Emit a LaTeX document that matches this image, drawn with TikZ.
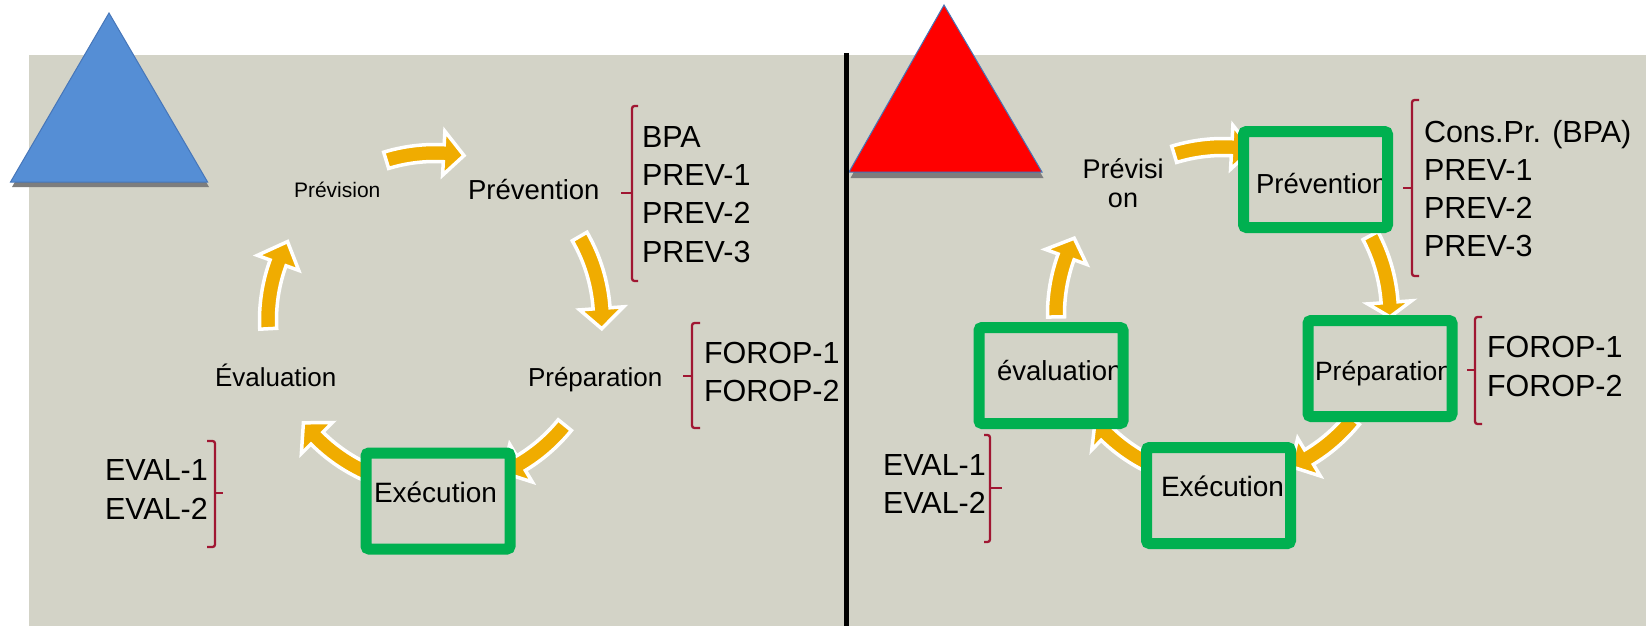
\documentclass[tikz,border=0pt]{standalone}
\usepackage{fontspec}
\setmainfont{Liberation Sans}
\definecolor{bgc}{RGB}{211,211,199}
\definecolor{gold}{RGB}{240,172,0}
\definecolor{grn}{RGB}{0,176,80}
\definecolor{brkred}{RGB}{160,22,50}
\definecolor{triblue}{RGB}{85,142,213}
\definecolor{triblueedge}{RGB}{70,118,185}
\definecolor{shadowc}{RGB}{125,125,125}
\newcommand\cycarrow[5]{%
  \filldraw[cyc] ([shift={(#1,#2)}]#3:175.5) arc[start angle=#3,end angle=#4,radius=175.5]
   -- ([shift={(#1,#2)}]#4:189) -- ([shift={(#1,#2)}]#5:167) -- ([shift={(#1,#2)}]#4:145)
   -- ([shift={(#1,#2)}]#4:158.5) arc[start angle=#4,end angle=#3,radius=158.5] -- cycle;}
\tikzset{
  cyc/.style={fill=gold, draw=white, line width=3.5, line join=miter, miter limit=6},
  gbox/.style={draw=grn, line width=11, rounded corners=3},
  boxbg/.style={fill=bgc, inner sep=0, outer sep=0, minimum width=144, minimum height=96},
  lbl/.style={inner sep=0, outer sep=0, anchor=base west, text=black},
  lst/.style={lbl, font=\fontsize{30.5}{36}\selectfont},
  brk/.style={draw=brkred, line width=2.3, rounded corners=2.5},
}
\begin{document}
\begin{tikzpicture}[x=1pt,y=-1pt]
\useasboundingbox (0,0) rectangle (1646,626);
% background
\fill[bgc] (29,55) rectangle (1646,626);
% triangles
\fill[shadowc] (110.5,18) -- (12,187) -- (209,187) -- cycle;
\filldraw[fill=triblue, draw=triblueedge, line width=1] (109,13) -- (10.5,182) -- (207.6,182) -- cycle;
\fill[shadowc] (945.5,11) -- (850.5,178) -- (1043.5,178) -- cycle;
\filldraw[fill=red, draw=triblueedge, line width=1] (944,5) -- (849,172) -- (1042,172) -- cycle;

% ---------- left cycle ----------
\cycarrow{435}{320}{-107}{-87}{-80}
\cycarrow{435}{320}{-30}{-4}{3}
\cycarrow{435}{320}{39}{59}{66}
\cycarrow{435}{320}{108}{135}{142}
\cycarrow{435}{320}{-183}{-160}{-152}

\node[boxbg] (bExeL) at (438,501) {};
\node[lbl, font=\fontsize{21}{25}\selectfont] (tPrvsL) at (294,197) {Prévision};
\node[lbl, font=\fontsize{27.5}{33}\selectfont] (tPrevL) at (468,199) {Prévention};
\node[lbl, font=\fontsize{26}{31}\selectfont] (tPrepL) at (528,386) {Préparation};
\node[lbl, font=\fontsize{26}{31}\selectfont] (tEvalL) at (215,386) {Évaluation};
\node[lbl, font=\fontsize{28}{33}\selectfont] (tExeL) at (374,502) {Exécution};
\draw[gbox] (bExeL.south west) rectangle (bExeL.north east);

% lists left
\draw[brk] (638,106) -- (632,106) -- (632,281) -- (638,281);
\draw[brk] (632,193) -- (621,193);
\node[lst] (lBPA) at (642,147) {BPA};
\node[lst] (lP1) at (642,185.3) {PREV-1};
\node[lst] (lP2) at (642,223.6) {PREV-2};
\node[lst] (lP3) at (642,262) {PREV-3};

\draw[brk] (700,323) -- (692,323) -- (692,428) -- (700,428);
\draw[brk] (692,376) -- (683,376);
\node[lst] (lF1) at (704,363) {FOROP-1};
\node[lst] (lF2) at (704,401) {FOROP-2};

\draw[brk] (207,441) -- (215,441) -- (215,547) -- (207,547);
\draw[brk] (215,493) -- (223,493);
\begin{scope}
\clip (0,0) rectangle (206,626);
\node[lst] (lE1) at (105,480) {EVAL-1};
\node[lst] (lE2) at (105,519) {EVAL-2};
\end{scope}

% ---------- right cycle ----------
\cycarrow{1223}{314}{-107}{-87}{-80}
\cycarrow{1223}{314}{-28}{-4}{1}
\cycarrow{1223}{314}{39}{59}{66}
\cycarrow{1223}{314}{108}{134}{140}
\cycarrow{1223}{314}{-181}{-160}{-153}

\node[boxbg] (bPrevR) at (1315.5,179.5) {};
\node[boxbg] (bEvalR) at (1051,375.5) {};
\node[boxbg] (bPrepR) at (1380,368.5) {};
\node[boxbg] (bExeR) at (1218.5,495.5) {};

\node[inner sep=0, anchor=base, font=\fontsize{27}{32}\selectfont] (tPrvsR1) at (1123,178) {Prévisi};
\node[inner sep=0, anchor=base, font=\fontsize{27}{32}\selectfont] (tPrvsR2) at (1123,207) {on};
\node[lbl, font=\fontsize{27.5}{33}\selectfont] (tPrevR) at (1256,193) {Prévention};
\node[lbl, font=\fontsize{27.5}{33}\selectfont] (tEvalR) at (997,380) {évaluation};
\node[lbl, font=\fontsize{26.5}{31}\selectfont] (tPrepR) at (1315,380) {Préparation};
\node[lbl, font=\fontsize{28}{33}\selectfont] (tExeR) at (1161,496) {Exécution};

\draw[gbox] (bPrevR.south west) rectangle (bPrevR.north east);
\draw[gbox] (bEvalR.south west) rectangle (bEvalR.north east);
\draw[gbox] (bPrepR.south west) rectangle (bPrepR.north east);
\draw[gbox] (bExeR.south west) rectangle (bExeR.north east);

% lists right
\draw[brk] (1419,100) -- (1412,100) -- (1412,276) -- (1419,276);
\draw[brk] (1412,188) -- (1403,188);
\node[lst] (rBPA) at (1424,142) {Cons.Pr. (BPA)};
\node[lst] (rP1) at (1424,180) {PREV-1};
\node[lst] (rP2) at (1424,218.3) {PREV-2};
\node[lst] (rP3) at (1424,256.7) {PREV-3};

\draw[brk] (1482,317) -- (1475,317) -- (1475,424) -- (1482,424);
\draw[brk] (1475,370) -- (1467,370);
\node[lst] (rF1) at (1487,357.3) {FOROP-1};
\node[lst] (rF2) at (1487,396) {FOROP-2};

\draw[brk] (984,435) -- (990,435) -- (990,542) -- (984,542);
\draw[brk] (990,488) -- (1002,488);
\begin{scope}
\clip (800,0) rectangle (985,626);
\node[lst] (rE1) at (883,475) {EVAL-1};
\node[lst] (rE2) at (883,513.3) {EVAL-2};
\end{scope}

% divider
\draw[line width=5] (846,53) -- (846,626);
\end{tikzpicture}
\end{document}
